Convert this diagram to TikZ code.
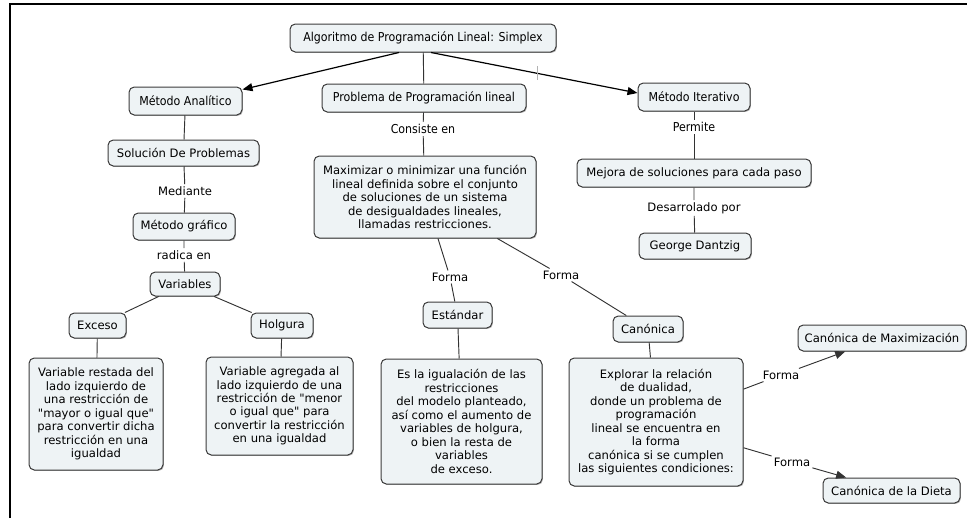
\documentclass[tikz,border=0pt]{standalone}
\usepackage{fontspec}
\setmainfont{DejaVu Sans}[Ligatures=TeXOff]
\newfontfamily\condfont{DejaVu Sans Condensed}
\usetikzlibrary{arrows.meta,calc,shadows}

\definecolor{boxfill}{HTML}{EEF3F5}
\definecolor{boxline}{HTML}{3C3C3C}
\definecolor{linkgray}{HTML}{333333}

\begin{document}
\begin{tikzpicture}[x=0.75pt,y=-0.75pt,
  concept/.style={draw=boxline, fill=boxfill, rounded corners=4pt, line width=0.75pt,
    inner sep=2pt, align=center, font=\fontsize{8.7}{10.1}\selectfont,
    drop shadow={shadow xshift=0.7pt,shadow yshift=-0.7pt,fill=black,opacity=0.3}},
  topconcept/.style={concept, font=\condfont\fontsize{9.2}{11}\selectfont},
  linklabel/.style={inner sep=1.5pt, font=\fontsize{8.7}{10.1}\selectfont},
  toplabel/.style={linklabel, font=\condfont\fontsize{9.2}{11}\selectfont},
  link/.style={draw=linkgray, line width=0.7pt},
  arrowlink/.style={draw=black, line width=0.9pt, -{Triangle[length=7.5pt,width=6pt]}},
]
\useasboundingbox (0,0) rectangle (967,518);

% frame
\draw[line width=1.5pt] (10,518) -- (10,4) -- (967,4);

% concepts
\node[topconcept, minimum width=199.5pt, minimum height=21pt] (top) at (423,38) {Algoritmo de Programación Lineal: Simplex};
\node[topconcept, minimum width=84.75pt, minimum height=21pt] (analit) at (185.5,101) {Método Analítico};
\node[topconcept, minimum width=153pt, minimum height=21pt] (prob) at (424,98) {Problema de Programación lineal};
\node[topconcept, minimum width=84pt, minimum height=21pt] (iter) at (694,97) {Método Iterativo};

\node[concept, minimum width=113.25pt, minimum height=19.5pt] (sol) at (183.5,153) {Solución De Problemas};
\node[concept, minimum width=76.5pt, minimum height=20.25pt] (graf) at (184,226.5) {Método gráfico};
\node[concept, minimum width=52.5pt, minimum height=18pt] (vars) at (185,284) {Variables};
\node[concept, minimum width=42.75pt, minimum height=18.75pt] (exceso) at (97.5,325.5) {Exceso};
\node[concept, minimum width=46.5pt, minimum height=18.75pt] (holgura) at (282,325.5) {Holgura};
\node[concept, minimum width=100.5pt, minimum height=84pt] (excT) at (96,414)
  {Variable restada del\\lado izquierdo de\\una restricción de\\"mayor o igual que"\\para convertir dicha\\restricción en una\\igualdad};
\node[concept, minimum width=110.25pt, minimum height=73.5pt] (holT) at (279.5,406)
  {Variable agregada al\\lado izquierdo de una\\restricción de "menor\\o igual que" para\\convertir la restricción\\en una igualdad};

\node[concept, minimum width=166.5pt, minimum height=61.5pt] (maxT) at (425,197)
  {Maximizar o minimizar una función\\lineal definida sobre el conjunto\\de soluciones de un sistema\\de desigualdades lineales,\\llamadas restricciones.};
\node[concept, minimum width=51.75pt, minimum height=19.5pt] (est) at (457.5,315) {Estándar};
\node[concept, minimum width=52.5pt, minimum height=19.5pt] (can) at (648,329) {Canónica};
\node[concept, minimum width=120.75pt, minimum height=93.75pt] (estT) at (461.5,421.5)
  {Es la igualación de las\\restricciones\\del modelo planteado,\\así como el aumento de\\variables de holgura,\\o bien la resta de\\variables\\de exceso.};
\node[concept, minimum width=130.5pt, minimum height=96pt] (canT) at (656,422)
  {Explorar la relación\\de dualidad,\\donde un problema de\\programación\\lineal se encuentra en\\la forma\\canónica si se cumplen\\las siguientes condiciones:};

\node[concept, minimum width=175.5pt, minimum height=21pt] (mejora) at (694,173) {Mejora de soluciones para cada paso};
\node[concept, minimum width=84pt, minimum height=19.5pt] (george) at (695,246) {George Dantzig};
\node[concept, minimum width=126pt, minimum height=19.5pt] (cmax) at (882,338) {Canónica de Maximización};
\node[concept, minimum width=102.75pt, minimum height=18.75pt] (cdieta) at (891.5,490.5) {Canónica de la Dieta};

% linking phrases
\node[toplabel] (consiste) at (423,129) {Consiste en};
\node[toplabel] (permite) at (694,127) {Permite};
\node[linklabel] (mediante) at (185,191) {Mediante};
\node[linklabel] (radica) at (184,255) {radica en};
\node[linklabel] (forma1) at (450,277) {Forma};
\node[linklabel] (forma2) at (561,275) {Forma};
\node[linklabel] (desarr) at (694,208) {Desarrolado por};
\node[linklabel] (forma3) at (781,375) {Forma};
\node[linklabel] (forma4) at (792,462) {Forma};

% connectors
\draw[arrowlink] ($(top.south)+(-24,0)$) -- ($(analit.north east)+(0,3)$);
\draw[arrowlink] ($(top.south)+(8,0)$) -- coordinate[pos=0.517] (tk) ($(iter.west)+(0,-4)$);
\draw[gray!60, line width=0.8pt] ($(tk)+(0,-7)$) -- ($(tk)+(0,7)$);
\draw[link] (top) -- (prob);

\draw[link] (analit) -- (sol);
\draw[link] (sol) -- (mediante) -- (graf);
\draw[link] (graf) -- (radica) -- (vars);
\draw[link] (vars) -- (exceso);
\draw[link] (vars) -- (holgura);
\draw[link] (exceso) -- (excT);
\draw[link] (holgura) -- (holT);

\draw[link] (prob) -- (consiste) -- (maxT);
\draw[link] (maxT) -- (forma1) -- (est);
\draw[link] (maxT) -- (forma2) -- (can);
\draw[link] (est) -- (estT);
\draw[link] (can) -- (canT);
\draw[link] (canT) -- (forma3);
\draw[link, -{Triangle[length=7.5pt,width=6pt]}] (forma3) -- (cmax);
\draw[link] (canT) -- (forma4);
\draw[link, -{Triangle[length=7.5pt,width=6pt]}] (forma4) -- (cdieta);

\draw[link] (iter) -- (permite) -- (mejora);
\draw[link] (mejora) -- (desarr) -- (george);
\end{tikzpicture}
\end{document}
